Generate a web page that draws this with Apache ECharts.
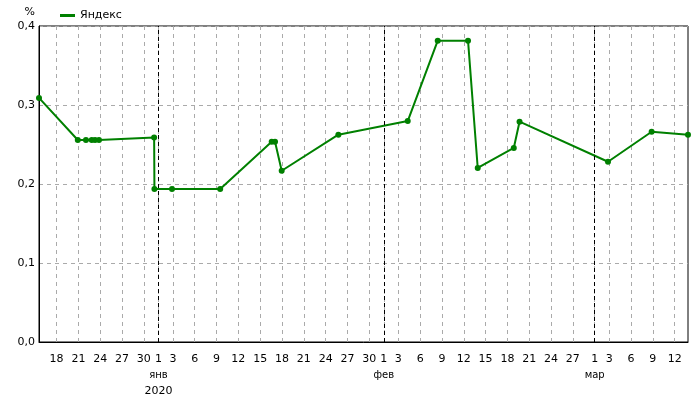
<!DOCTYPE html>
<html>
<head>
<meta charset="utf-8">
<script src="https://cdn.jsdelivr.net/npm/echarts@6/dist/echarts.min.js"></script>
<style>html,body{margin:0;padding:0;background:#fff}#c{width:700px;height:400px}</style>
</head>
<body>
<div id="c"></div>
<script>
const seriesName = 'Яндекс';
const times = [
  '2019-12-15 14:00','2019-12-20 22:00','2019-12-22 01:00','2019-12-22 20:00','2019-12-23 07:00','2019-12-23 20:00',
  '2019-12-31 10:00','2019-12-31 11:00','2020-01-02 21:00','2020-01-09 12:00','2020-01-16 14:00','2020-01-17 01:00',
  '2020-01-17 23:00','2020-01-25 18:00','2020-02-04 07:00','2020-02-08 10:00','2020-02-12 14:00','2020-02-13 22:00',
  '2020-02-18 21:00','2020-02-19 16:00','2020-03-02 20:00','2020-03-08 20:00','2020-03-13 20:00'
];
const values = [
  0.309,0.2557,0.2557,0.2557,0.2557,0.2557,
  0.259,0.1937,0.1937,0.1937,0.2535,0.2535,
  0.2168,0.2624,0.2797,0.3814,0.3814,0.2203,
  0.2456,0.2789,0.2282,0.2662,0.2624
];
const tickDates = [
  '2019-12-18','2019-12-21','2019-12-24','2019-12-27','2019-12-30',
  '2020-01-01','2020-01-03','2020-01-06','2020-01-09','2020-01-12','2020-01-15','2020-01-18','2020-01-21','2020-01-24','2020-01-27','2020-01-30',
  '2020-02-01','2020-02-03','2020-02-06','2020-02-09','2020-02-12','2020-02-15','2020-02-18','2020-02-21','2020-02-24','2020-02-27',
  '2020-03-01','2020-03-03','2020-03-06','2020-03-09','2020-03-12'
];
const monthStarts = ['2020-01-01','2020-02-01','2020-03-01'];
const monthNames = ['янв','фев','мар','апр','май','июн','июл','авг','сен','окт','ноя','дек'];
const yearLabel = '2020';

function toMs(s){ const p = s.split(/[- :]/).map(Number); return Date.UTC(p[0], p[1]-1, p[2], p[3]||0, p[4]||0); }

const data = times.map((t,i)=>[toMs(t), values[i]]);
const tickMs = tickDates.map(toMs);
const font = 'DejaVu Sans, Verdana, sans-serif';

const chart = echarts.init(document.getElementById('c'), null, {renderer:'canvas'});
chart.setOption({
  animation: false,
  textStyle: {fontFamily: font},
  grid: {left: 39, right: 12, top: 26, bottom: 58, show: true, borderColor: '#000', borderWidth: 1, backgroundColor: 'transparent'},
  legend: {
    left: 55, top: 5, icon: 'rect', itemWidth: 15, itemHeight: 3,
    textStyle: {fontFamily: font, fontSize: 11, color: '#000'},
    data: [seriesName]
  },
  xAxis: {
    type: 'value',
    min: data[0][0], max: data[data.length-1][0],
    axisLine: {lineStyle: {color: '#000', width: 1}},
    axisTick: {show: false, customValues: tickMs},
    splitLine: {show: true, lineStyle: {color: '#aaa', type: [4,4], width: 1}},
    axisLabel: {
      customValues: tickMs,
      hideOverlap: false,
      margin: 9,
      color: '#000', fontFamily: font, fontSize: 11, lineHeight: 16,
      formatter: function(v){
        const d = new Date(v);
        const day = d.getUTCDate();
        if (day === 1) {
          let s = '1\n{m|' + monthNames[d.getUTCMonth()] + '}';
          if (d.getUTCMonth() === 0) s += '\n{y|' + yearLabel + '}';
          return s;
        }
        return String(day);
      },
      rich: {
        m: {fontSize: 10, color: '#000', fontFamily: font, lineHeight: 16},
        y: {fontSize: 11, color: '#000', fontFamily: font, lineHeight: 16}
      }
    }
  },
  yAxis: {
    type: 'value', min: 0, max: 0.4, interval: 0.1,
    name: '%', nameLocation: 'end', nameGap: 8,
    nameTextStyle: {color: '#000', fontSize: 11, fontFamily: font, align: 'right', padding: [0, 4, 0, 0]},
    axisLine: {show: true, lineStyle: {color: '#000'}},
    axisTick: {show: false},
    splitLine: {show: true, lineStyle: {color: '#aaa', type: [4,4]}},
    axisLabel: {color: '#000', fontSize: 11, fontFamily: font, margin: 4,
      formatter: v => v.toFixed(1).replace('.', ',')}
  },
  series: [{
    name: seriesName, type: 'line', data: data,
    color: '#008000',
    symbol: 'circle', symbolSize: 6, showAllSymbol: true,
    lineStyle: {width: 2, color: '#008000'},
    itemStyle: {color: '#008000'},
    markLine: {
      silent: true, symbol: ['none','none'], label: {show: false},
      lineStyle: {color: '#000', type: [4,3], width: 1},
      data: monthStarts.map(m => ({xAxis: toMs(m)}))
    }
  }]
});
</script>
</body>
</html>
